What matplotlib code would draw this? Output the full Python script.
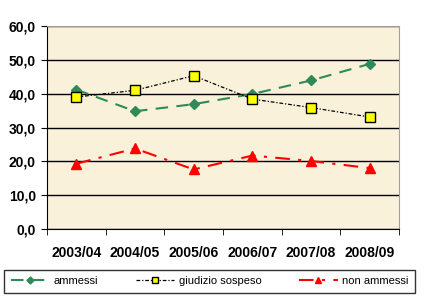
import matplotlib
matplotlib.use("Agg")
import matplotlib.pyplot as plt
from matplotlib.ticker import FuncFormatter, FixedLocator

categories = ["2003/04", "2004/05", "2005/06", "2006/07", "2007/08", "2008/09"]
ammessi = [41.2, 34.8, 36.9, 39.9, 43.9, 48.8]
giudizio_sospeso = [39.0, 41.0, 45.3, 38.4, 35.9, 33.1]
non_ammessi = [19.3, 23.8, 17.6, 21.7, 20.1, 18.0]
yticks = [0, 10, 20, 30, 40, 50, 60]

plt.rcParams['font.family'] = ['Liberation Sans', 'DejaVu Sans']

fig = plt.figure(figsize=(4.25, 3.01), dpi=100)
fig.patch.set_facecolor('white')
ax = fig.add_axes([47/425, 1-229/301, 352/425, 203/301])
ax.set_facecolor('#FAF1DA')

x = list(range(len(categories)))
ax.plot(x, ammessi, color='#2E8B57', linestyle=(0, (6, 4)), linewidth=1.5,
        marker='D', markersize=5.5, markerfacecolor='#2E8B57', markeredgecolor='#2E8B57',
        label='ammessi', zorder=3)
ax.plot(x, giudizio_sospeso, color='black', linestyle=(0, (3, 1.5, 1, 1.5)), linewidth=0.9,
        marker='s', markersize=7, markerfacecolor='#FFFF00', markeredgecolor='black',
        markeredgewidth=1.0, label='giudizio sospeso', zorder=4)
ax.plot(x, non_ammessi, color='#FF0000', linestyle=(0, (7, 4, 1.5, 4)), linewidth=1.5,
        marker='^', markersize=7, markerfacecolor='#FF0000', markeredgecolor='#FF0000',
        label='non ammessi', zorder=3)

ax.set_xlim(-0.5, len(categories) - 0.5)
ax.set_ylim(0, 60)
ax.yaxis.set_major_locator(FixedLocator(yticks))
ax.yaxis.set_major_formatter(FuncFormatter(lambda v, p: f"{v:.1f}".replace('.', ',')))
ax.grid(axis='y', color='black', linewidth=1.0)
ax.set_axisbelow(True)

ax.set_xticks(x)
ax.set_xticklabels(categories, fontweight='bold', fontsize=10)
ax.set_xticks([i - 0.5 for i in range(len(categories) + 1)], minor=True)
ax.tick_params(axis='x', which='major', length=0, pad=12)
ax.tick_params(axis='x', which='minor', length=4, direction='out', color='black')
ax.tick_params(axis='y', length=4, direction='out', labelsize=10, pad=4)
for lab in ax.get_yticklabels():
    lab.set_fontweight('bold')

for s in ['top', 'right']:
    ax.spines[s].set_color('#A0A0A0')
ax.spines['left'].set_color('black')
ax.spines['bottom'].set_color('black')

leg = fig.legend(loc='lower left', bbox_to_anchor=(4/425, 1-293/301, 411/425, 27/301),
                 ncol=3, mode='expand', frameon=True, fancybox=False, fontsize=8,
                 handlelength=3.5, borderaxespad=0, handletextpad=0.4, markerscale=0.65,
                 borderpad=0.6)
leg.get_frame().set_edgecolor('black')
leg.get_frame().set_linewidth(1.0)

fig.savefig('out.png', dpi=100, facecolor='white')
